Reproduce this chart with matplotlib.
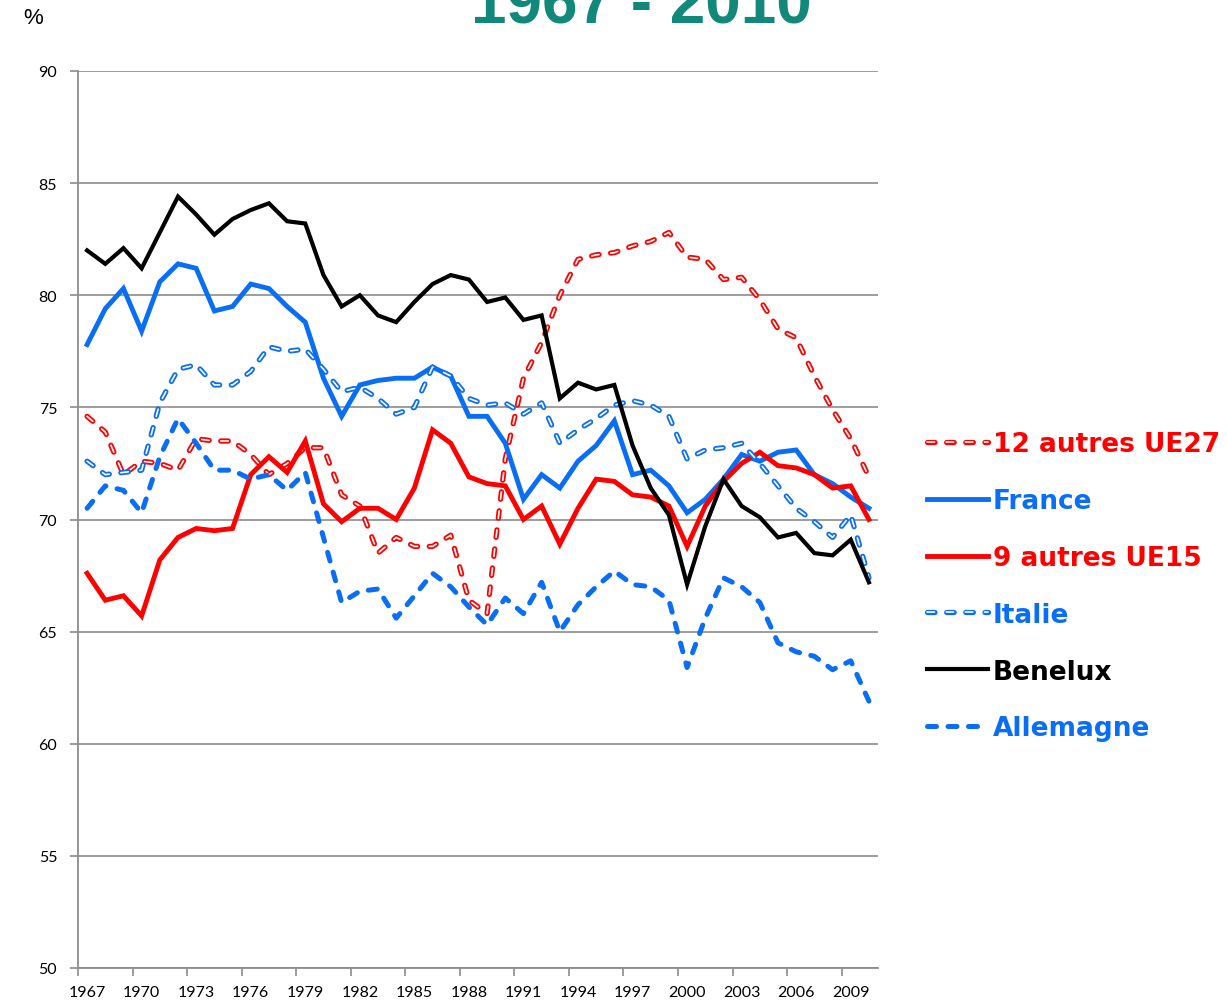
import matplotlib
matplotlib.use("Agg")
import matplotlib.pyplot as plt
import matplotlib.patheffects as pe
import numpy as np

years = list(range(1967, 2011))

autres12_ue27 = [74.6, 73.9, 72.0, 72.6, 72.5, 72.2, 73.6, 73.5, 73.5, 72.9, 72.0, 72.5,
                 73.2, 73.2, 71.1, 70.6, 68.5, 69.2, 68.8, 68.8, 69.3, 66.4, 65.8, 72.7,
                 76.3, 77.9, 80.0, 81.6, 81.8, 81.9, 82.2, 82.4, 82.8, 81.7, 81.6, 80.7,
                 80.8, 79.8, 78.5, 78.1, 76.4, 74.9, 73.6, 71.9]
france = [77.8, 79.4, 80.3, 78.4, 80.6, 81.4, 81.2, 79.3, 79.5, 80.5, 80.3, 79.5,
          78.8, 76.3, 74.6, 76.0, 76.2, 76.3, 76.3, 76.8, 76.4, 74.6, 74.6, 73.4,
          70.9, 72.0, 71.4, 72.6, 73.3, 74.4, 72.0, 72.2, 71.5, 70.3, 70.9, 71.8,
          72.9, 72.6, 73.0, 73.1, 72.0, 71.6, 71.0, 70.5]
autres9_ue15 = [67.6, 66.4, 66.6, 65.7, 68.2, 69.2, 69.6, 69.5, 69.6, 72.0, 72.8, 72.1,
                73.5, 70.7, 69.9, 70.5, 70.5, 70.0, 71.4, 74.0, 73.4, 71.9, 71.6, 71.5,
                70.0, 70.6, 68.9, 70.5, 71.8, 71.7, 71.1, 71.0, 70.6, 68.8, 70.6, 71.7,
                72.5, 73.0, 72.4, 72.3, 72.0, 71.4, 71.5, 70.0]
italie = [72.6, 72.0, 72.1, 72.2, 75.2, 76.7, 76.9, 76.0, 76.0, 76.6, 77.7, 77.5,
          77.6, 76.7, 75.7, 75.9, 75.4, 74.7, 75.0, 76.8, 76.4, 75.4, 75.1, 75.2,
          74.7, 75.2, 73.4, 74.0, 74.5, 75.1, 75.3, 75.1, 74.6, 72.7, 73.1, 73.2,
          73.4, 72.5, 71.5, 70.5, 69.9, 69.2, 70.2, 67.4]
benelux = [82.0, 81.4, 82.1, 81.2, 82.8, 84.4, 83.6, 82.7, 83.4, 83.8, 84.1, 83.3,
           83.2, 80.9, 79.5, 80.0, 79.1, 78.8, 79.7, 80.5, 80.9, 80.7, 79.7, 79.9,
           78.9, 79.1, 75.4, 76.1, 75.8, 76.0, 73.3, 71.4, 70.2, 67.1, 69.7, 71.8,
           70.6, 70.1, 69.2, 69.4, 68.5, 68.4, 69.1, 67.2]
allemagne = [70.5, 71.5, 71.3, 70.3, 72.8, 74.5, 73.4, 72.2, 72.2, 71.8, 72.0, 71.3,
             72.1, 69.2, 66.3, 66.8, 66.9, 65.6, 66.6, 67.6, 67.0, 66.1, 65.3, 66.5,
             65.8, 67.2, 65.0, 66.2, 67.0, 67.7, 67.1, 67.0, 66.4, 63.4, 65.6, 67.4,
             67.0, 66.3, 64.5, 64.1, 63.9, 63.3, 63.7, 61.9]

labels = ["12 autres UE27", "France", "9 autres UE15", "Italie", "Benelux", "Allemagne"]
year_ticks = list(range(1967, 2010, 3))
y_ticks = list(range(50, 95, 5))

BLUE = "#0A6EF5"
RED = "#FF0000"
BLACK = "#000000"
TEAL = "#11887A"
GRID = "#8C8C8C"

fig = plt.figure(figsize=(12.27, 10.03), dpi=100)
ax = fig.add_axes([78/1227, 1-969/1003, 800/1227, (969-72)/1003])

def outlined(y, color, label):
    ln, = ax.plot(years, y, color="white", lw=1.2, linestyle=(0, (4.5, 7.0)),
                  dash_capstyle="round", solid_capstyle="round", label=label, zorder=3)
    ln.set_path_effects([pe.Stroke(linewidth=3.8, foreground=color), pe.Normal()])
    return ln

outlined(autres12_ue27, RED, labels[0])
ax.plot(years, france, color=BLUE, lw=3.5, label=labels[1], zorder=3, solid_joinstyle="miter")
ax.plot(years, autres9_ue15, color=RED, lw=3.5, label=labels[2], zorder=3, solid_joinstyle="miter")
outlined(italie, BLUE, labels[3])
ax.plot(years, benelux, color=BLACK, lw=3.0, label=labels[4], zorder=3, solid_joinstyle="miter")
ax.plot(years, allemagne, color=BLUE, lw=3.6, linestyle=(0, (1.8, 2.3)),
        dash_capstyle="round", label=labels[5], zorder=3)

ax.set_xlim(1966.5, 2010.5)
ax.set_ylim(50, 90)
for s in ["top", "right"]:
    ax.spines[s].set_visible(False)
for s in ["left", "bottom"]:
    ax.spines[s].set_color(GRID)
    ax.spines[s].set_linewidth(1.3)

ax.set_yticks(y_ticks)
ax.yaxis.grid(True, color=GRID, lw=1.2)
ax.set_axisbelow(True)
ax.tick_params(axis="y", length=6, width=1.2, color=GRID, labelsize=11.5, pad=9)

ax.set_xticks(np.arange(1966.5, 2011, 3))
ax.set_xticklabels([])
ax.set_xticks(year_ticks, minor=True)
ax.set_xticklabels([str(y) for y in year_ticks], minor=True)
ax.tick_params(axis="x", which="major", length=6, width=1.2, color=GRID)
ax.tick_params(axis="x", which="minor", length=0, labelsize=11.5, pad=12)
for t in ax.get_xticklabels(minor=True) + ax.get_yticklabels():
    t.set_fontfamily(["Lato", "DejaVu Sans"])

leg = ax.legend(loc="upper left", bbox_to_anchor=(927/1227, 1-432/1003),
                bbox_transform=fig.transFigure, frameon=False, handlelength=2.31,
                handletextpad=0.19, labelspacing=1.17, borderaxespad=0, borderpad=0,
                prop={"family": ["DejaVu Sans"], "weight": "bold", "size": 19})
for txt, c in zip(leg.get_texts(), [RED, BLUE, RED, BLUE, BLACK, BLUE]):
    txt.set_color(c)

fig.text(33/1227, 1-18/1003, "%", fontsize=16, ha="center", va="center",
         family=["Liberation Sans", "DejaVu Sans"])
fig.text(641/1227, 1-23/1003, "1967 - 2010", fontsize=46, fontweight="bold",
         color=TEAL, ha="center", va="baseline", family=["Liberation Sans", "DejaVu Sans"])

fig.savefig("out.png", dpi=100)
